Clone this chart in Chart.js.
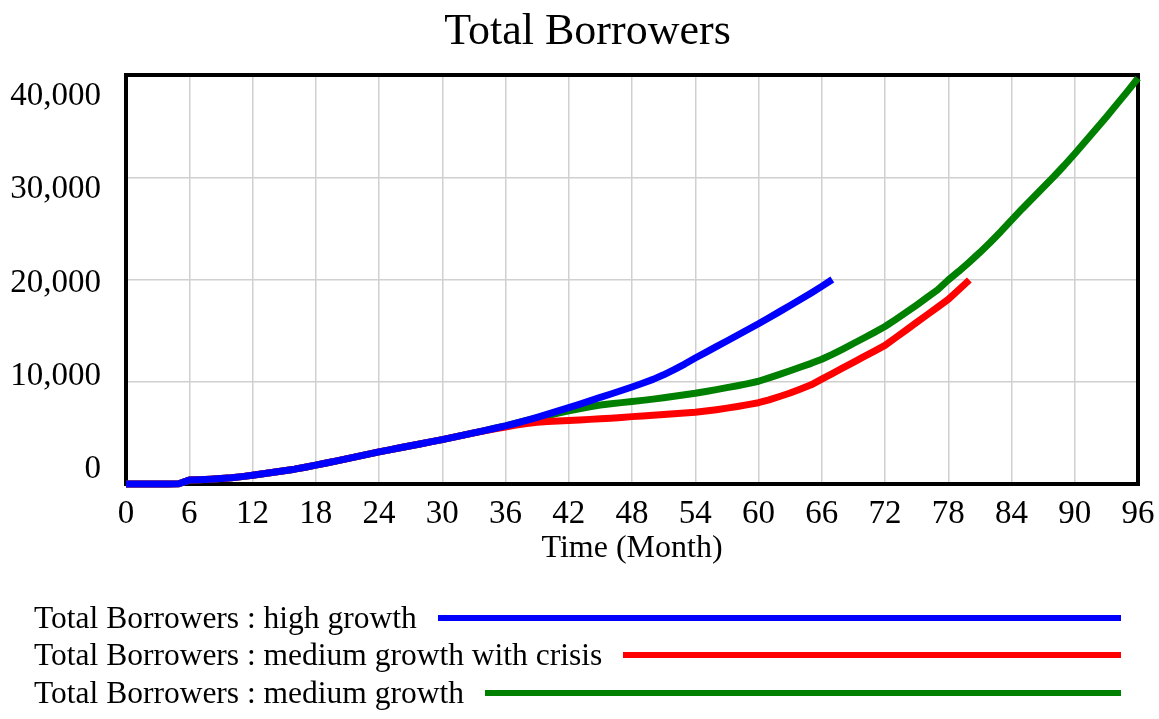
<!DOCTYPE html>
<html>
<head>
<meta charset="utf-8">
<script src="https://cdn.jsdelivr.net/npm/chart.js@4.4.1/dist/chart.umd.min.js"></script>
<style>
  html, body { margin: 0; padding: 0; background: #fff; }
  #wrap { position: relative; width: 1159px; height: 719px; }
  #legend { position: absolute; left: 34px; top: 599px; width: 1087px;
            font-family: "Liberation Serif", "Times New Roman", serif; font-size: 31.5px; color: #000; }
  .row { display: flex; align-items: center; height: 37.5px; }
  .row span { white-space: nowrap; margin-right: 21px; line-height: 1.15; }
  .row i { flex: 1; height: 6px; display: block; }
</style>
</head>
<body>
<div id="wrap">
  <canvas id="c" width="1159" height="719"></canvas>
  <div id="legend"></div>
</div>
<script>
// ---- data ----
const months = [0,1,2,3,4,5,6,7,8,9,10,11,12,13,14,15,16,17,18,19,20,21,22,23,24,25,26,27,28,29,30,31,32,33,34,35,36,37,38,39,40,41,42,43,44,45,46,47,48,49,50,51,52,53,54,55,56,57,58,59,60,61,62,63,64,65,66,67,68,69,70,71,72,73,74,75,76,77,78,79,80,81,82,83,84,85,86,87,88,89,90,91,92,93,94,95,96];

const seriesNames = [
  "Total Borrowers : high growth",
  "Total Borrowers : medium growth with crisis",
  "Total Borrowers : medium growth"
];
const seriesColors = ["#0000ff", "#ff0000", "#008000"];

const highGrowth = [0,0,0,0,0,30,380,420,470,540,610,720,850,1000,1150,1290,1450,1640,1840,2050,2260,2480,2700,2920,3140,3340,3540,3740,3940,4140,4340,4560,4780,5000,5220,5450,5680,5940,6220,6520,6830,7150,7460,7790,8130,8480,8800,9140,9490,9850,10230,10680,11180,11730,12320,12880,13430,13990,14550,15110,15670,16260,16860,17460,18060,18680,19330,20000];

const crisisGrowth = [0,0,0,0,0,30,380,420,470,540,610,720,850,1000,1150,1290,1450,1640,1840,2050,2260,2480,2700,2920,3140,3340,3540,3740,3940,4140,4340,4560,4780,5000,5200,5400,5580,5760,5920,6040,6120,6170,6210,6260,6320,6380,6440,6510,6590,6660,6730,6800,6870,6940,7020,7140,7270,7420,7580,7760,7950,8230,8560,8900,9290,9700,10260,10800,11350,11900,12450,13000,13550,14300,15050,15800,16550,17300,18050,19000,19950];

const mediumGrowth = [0,0,0,0,0,30,380,420,470,540,610,720,850,1000,1150,1290,1450,1640,1840,2050,2260,2480,2700,2920,3140,3340,3540,3740,3940,4140,4340,4560,4780,5000,5220,5450,5680,5940,6220,6460,6700,6930,7150,7360,7550,7720,7850,7960,8060,8180,8300,8440,8580,8720,8870,9050,9230,9420,9610,9820,10050,10380,10720,11080,11440,11800,12200,12680,13200,13740,14280,14830,15400,16080,16780,17500,18250,19000,19950,20800,21700,22650,23650,24700,25800,26900,27950,29000,30050,31150,32300,33500,34700,35900,37150,38400,39700];

const yTickLabels = ["0", "10,000", "20,000", "30,000", "40,000"];

// ---- chart ----
const FONT = "'Liberation Serif', 'Times New Roman', serif";
const seriesValues = [highGrowth, crisisGrowth, mediumGrowth];
const toPoints = arr => arr.map((v, i) => ({ x: months[i], y: v }));

const framePlugin = {
  id: 'frame',
  afterLayout(chart) {
    // centre the title the way the reference does (slightly right of canvas centre)
    if (chart.titleBlock) chart.titleBlock.left = 37;
  },
  beforeDatasetsDraw(chart) {
    const { ctx, chartArea: a } = chart;
    ctx.save();
    ctx.strokeStyle = '#000';
    ctx.lineWidth = 4;
    ctx.strokeRect(a.left, a.top, a.right - a.left, a.bottom - a.top);
    ctx.restore();
  }
};

const chart = new Chart(document.getElementById('c'), {
  type: 'line',
  data: {
    datasets: seriesValues.map((vals, i) => ({
      label: seriesNames[i],
      data: toPoints(vals),
      borderColor: seriesColors[i],
      backgroundColor: seriesColors[i],
      borderWidth: 7,
      pointRadius: 0,
      tension: 0,
      fill: false,
      clip: false,
      borderJoinStyle: 'round'
    }))
  },
  options: {
    responsive: false,
    animation: false,
    devicePixelRatio: 1,
    layout: { padding: { left: 0, right: 21, top: 0, bottom: 151 } },
    plugins: {
      legend: { display: false },
      tooltip: { enabled: false },
      title: {
        display: true,
        text: 'Total Borrowers',
        color: '#000',
        font: { family: FONT, size: 44, weight: 'normal', lineHeight: 1.2 },
        padding: { top: 5.6, bottom: 16.6 }
      }
    },
    scales: {
      x: {
        type: 'linear', position: 'bottom', min: 0, max: 96,
        ticks: { stepSize: 6, color: '#000', font: { family: FONT, size: 33 }, padding: 0, maxRotation: 0, autoSkip: false },
        grid: { color: '#d0d0d0', lineWidth: 1.5, drawTicks: true, tickLength: 11, tickColor: 'rgba(0,0,0,0)' },
        border: { display: false },
        title: { display: true, text: 'Time (Month)', color: '#000', font: { family: FONT, size: 32, lineHeight: 1.2 }, padding: 0 },
        afterFit(s) { s.height = 84; }
      },
      y: {
        type: 'linear', position: 'left', min: 0, max: 40000,
        ticks: { display: false, stepSize: 10000 },
        grid: { color: '#d0d0d0', lineWidth: 1.5, drawTicks: false },
        border: { display: false }
      },
      yLabels: {
        type: 'linear', position: 'left', min: -0.155, max: 4.231,
        ticks: {
          stepSize: 1, includeBounds: false, color: '#000',
          font: { family: FONT, size: 33 }, padding: 25,
          callback: (v) => {
            const i = Math.round(v);
            return (Math.abs(v - i) < 1e-6 && yTickLabels[i] !== undefined) ? yTickLabels[i] : '';
          }
        },
        grid: { display: false, drawTicks: false },
        border: { display: false },
        afterFit(s) { s.width = 126; }
      }
    }
  },
  plugins: [framePlugin]
});

// ---- legend (built from the chart's datasets) ----
const legendEl = document.getElementById('legend');
chart.data.datasets.forEach(ds => {
  const row = document.createElement('div');
  row.className = 'row';
  const span = document.createElement('span');
  span.textContent = ds.label;
  const bar = document.createElement('i');
  bar.style.background = ds.borderColor;
  row.appendChild(span);
  row.appendChild(bar);
  legendEl.appendChild(row);
});
</script>
</body>
</html>
